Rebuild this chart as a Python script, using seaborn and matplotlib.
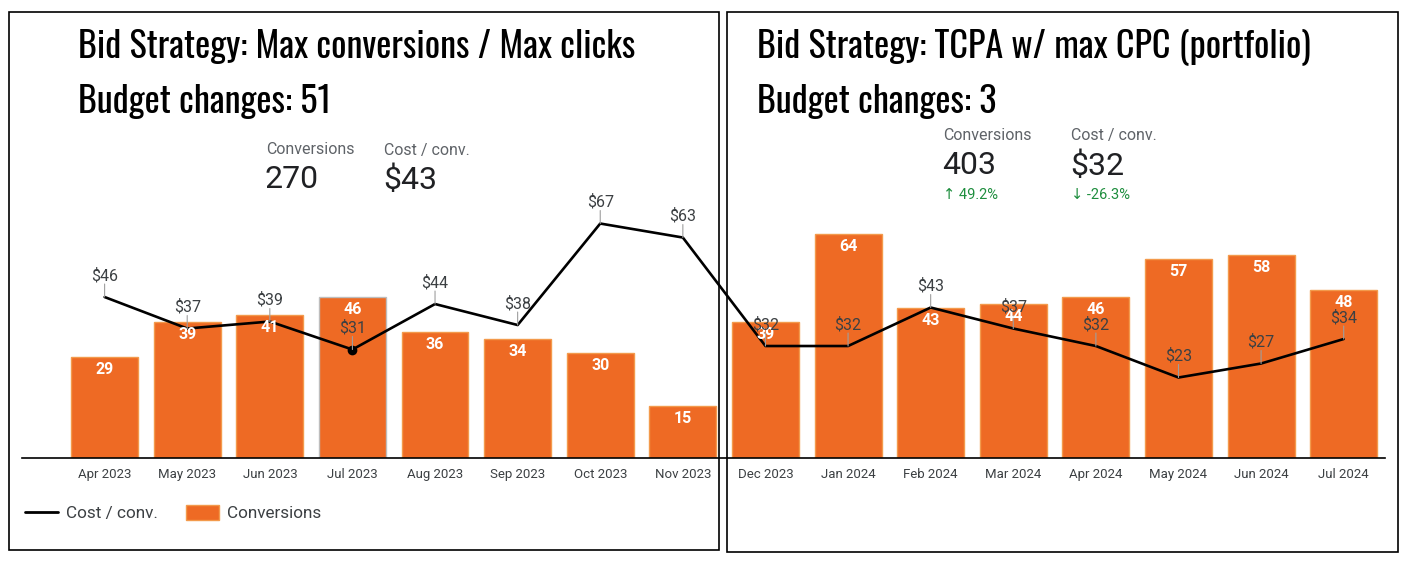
import numpy as np
import pandas as pd
import matplotlib
matplotlib.use("Agg")
import matplotlib.pyplot as plt
from matplotlib.patches import Rectangle, Patch
from matplotlib.lines import Line2D
import seaborn as sns

# ---- data ----
months = ["Apr 2023", "May 2023", "Jun 2023", "Jul 2023", "Aug 2023", "Sep 2023",
          "Oct 2023", "Nov 2023", "Dec 2023", "Jan 2024", "Feb 2024", "Mar 2024",
          "Apr 2024", "May 2024", "Jun 2024", "Jul 2024"]
conversions = [29, 39, 41, 46, 36, 34, 30, 15, 39, 64, 43, 44, 46, 57, 58, 48]
cost_per_conv = [46, 37, 39, 31, 44, 38, 67, 63, 32, 32, 43, 37, 32, 23, 27, 34]

left_title = ["Bid Strategy: Max conversions / Max clicks", "Budget changes: 51"]
right_title = ["Bid Strategy: TCPA w/ max CPC (portfolio)", "Budget changes: 3"]
left_kpis = [("Conversions", "270", None), ("Cost / conv.", "$43", None)]
right_kpis = [("Conversions", "403", "\u2191 49.2%"), ("Cost / conv.", "$32", "\u2193 -26.3%")]

ORANGE = "#ee6a24"
TXT = "#3c4043"
GREY = "#5f6368"
GREEN = "#1e8e3e"

sns.set_style("white")
plt.rcParams["font.family"] = ["Roboto", "DejaVu Sans"]

W, H = 1413, 563
fig = plt.figure(figsize=(W / 100, H / 100), dpi=100)
fig.patch.set_facecolor("white")

def fx(px):
    return px / W

def fy(py):
    return (H - py) / H

ax = fig.add_axes([fx(22), fy(458), fx(1385) - fx(22), fy(128) - fy(458)])
ax.set_facecolor("none")

df = pd.DataFrame({"month": months, "conv": conversions,
                   "cost": cost_per_conv, "idx": np.arange(len(months))})

sns.barplot(data=df, x="month", y="conv", color=ORANGE, saturation=1,
            width=0.81, edgecolor="#f39a4c", linewidth=1.0, ax=ax)
# highlighted bar edge (Jul 2023)
ax.patches[3].set_edgecolor("#bdbdbd")

sns.lineplot(data=df, x="idx", y="cost", color="black", linewidth=1.9,
             marker="o", markevery=[3], markersize=7, markeredgewidth=0,
             ax=ax, legend=False)

ax.set_xlim(-1.0, 15.5)
ax.set_ylim(0, 94.3)
ax.set_xlabel("")
ax.set_ylabel("")
ax.set_yticks([])
for s in ["top", "left", "right"]:
    ax.spines[s].set_visible(False)
ax.spines["bottom"].set_color("black")
ax.spines["bottom"].set_linewidth(1.2)
ax.tick_params(axis="x", length=0, pad=7, labelsize=9.5, labelcolor=TXT)

# bar labels (white, inside top)
for i, c in enumerate(conversions):
    ax.annotate(str(c), xy=(i, c), xytext=(0, -5), textcoords="offset pixels",
                ha="center", va="top", color="white", fontsize=11.5,
                fontweight="bold", zorder=5)

# cost labels with leader lines
for i, v in enumerate(cost_per_conv):
    ax.annotate("", xy=(i, v), xytext=(0, 13), textcoords="offset pixels",
                arrowprops=dict(arrowstyle="-", color="#9e9e9e", lw=0.8,
                                shrinkA=0, shrinkB=0), zorder=4)
    ax.annotate(f"${v}", xy=(i, v), xytext=(0, 14), textcoords="offset pixels",
                ha="center", va="bottom", color=TXT, fontsize=11.5, zorder=6)

# boxes
fig.add_artist(Rectangle((fx(9), fy(550)), fx(719) - fx(9), fy(12) - fy(550),
                         transform=fig.transFigure, fill=False, ec="black", lw=1.2))
fig.add_artist(Rectangle((fx(727), fy(552)), fx(1398) - fx(727), fy(12) - fy(552),
                         transform=fig.transFigure, fill=False, ec="black", lw=1.2))

TFONT = ["Oswald", "Fira Sans Extra Condensed", "DejaVu Sans"]
for k, t in enumerate(left_title):
    fig.text(fx(78), fy(47 + 55 * k), t, ha="left", va="center",
             fontsize=26, family=TFONT, color="black")
for k, t in enumerate(right_title):
    fig.text(fx(757), fy(47 + 55 * k), t, ha="left", va="center",
             fontsize=26, family=TFONT, color="black")

# KPI headers
def kpis(items, xs, y0):
    for (lab, val, chg), x in zip(items, xs):
        fig.text(fx(x), fy(y0), lab, ha="left", va="center", fontsize=11.5,
                 color=GREY)
        fig.text(fx(x - 1), fy(y0 + 30), val, ha="left", va="center",
                 fontsize=23, color="#202124")
        if chg:
            fig.text(fx(x), fy(y0 + 59), chg, ha="left", va="center",
                     fontsize=10.5, color=GREEN,
                     family=["Roboto", "DejaVu Sans"])

kpis(left_kpis, [266, 384], 150)
kpis(right_kpis, [943, 1071], 136)

# legend
handles = [Line2D([0], [0], color="black", lw=2),
           Patch(facecolor=ORANGE, edgecolor="#f39a4c")]
leg = fig.legend(handles, ["Cost / conv.", "Conversions"], loc="center left",
                 bbox_to_anchor=(fx(10), fy(513)), ncol=2, frameon=False,
                 fontsize=12.3, handlelength=1.93, handleheight=1.0,
                 columnspacing=1.6, handletextpad=0.47, labelcolor=TXT)

fig.savefig("out.png", dpi=100, facecolor="white")
